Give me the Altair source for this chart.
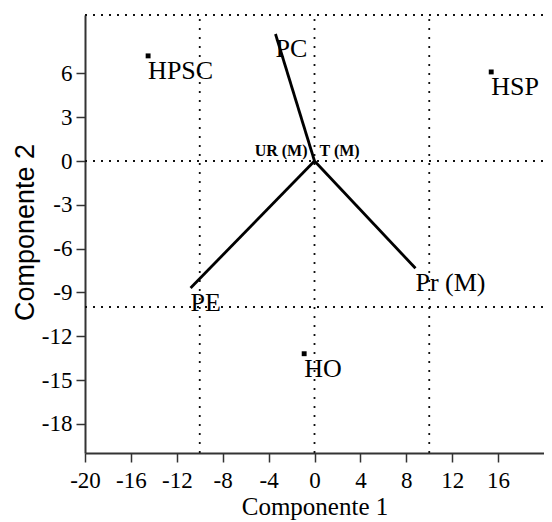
import altair as alt
import pandas as pd

# Objects (scores)
obj_names = ["HPSC", "HSP", "HO"]
obj_x = [-14.5, 15.4, -0.9]
obj_y = [7.2, 6.1, -13.2]

# Variables (loading vectors from origin)
var_names = ["PC", "PE", "Pr (M)"]
var_x = [-3.4, -10.8, 8.8]
var_y = [8.7, -8.7, -7.35]

# Variables with near-zero loadings (labels at origin)
small_left = ["UR (M)"]
small_right = ["T (M)"]

# Reference (dotted) lines
vlines = [-10, 0, 10]
hlines = [10, 0, -10]

x_ticks = [-20, -16, -12, -8, -4, 0, 4, 8, 12, 16]
y_ticks = [6, 3, 0, -3, -6, -9, -12, -15, -18]
x_dom = [-20, 20]
y_dom = [-20, 10]

objs = pd.DataFrame({"name": obj_names, "x": obj_x, "y": obj_y})
vars_df = pd.DataFrame({"name": var_names, "x0": [0] * 3, "y0": [0] * 3,
                        "x": var_x, "y": var_y})
vl_df = pd.DataFrame({"x": vlines, "y": [y_dom[0]] * 3, "y2": [y_dom[1]] * 3})
hl_df = pd.DataFrame({"y": hlines, "x": [x_dom[0]] * 3, "x2": [x_dom[1]] * 3})
sl_df = pd.DataFrame({"name": small_left, "x": [0], "y": [0]})
sr_df = pd.DataFrame({"name": small_right, "x": [0], "y": [0]})

W = 459
H = 438

xaxis = alt.Axis(
    values=x_ticks, labelExpr="'' + datum.value", grid=False,
    tickSize=9, tickWidth=1.5, tickColor="#333",
    domainColor="#333", domainWidth=2,
    labelFont="Liberation Serif", labelFontSize=23, labelColor="black",
    labelBaseline="alphabetic", labelPadding=25, labelFlush=False, labelOverlap=False,
    title="Componente 1", titleFont="Liberation Serif", titleFontSize=25,
    titleFontWeight="normal", titleColor="black", titleBaseline="alphabetic",
    titleY=61.5, titleX=W / 2, titleAlign="center",
)
yaxis = alt.Axis(
    values=y_ticks, labelExpr="'' + datum.value", grid=False,
    tickSize=9, tickWidth=1.5, tickColor="#333",
    domainColor="#333", domainWidth=2,
    labelFont="Liberation Serif", labelFontSize=23, labelColor="black",
    labelPadding=4, labelFlush=False, labelOverlap=False,
    title="Componente 2", titleFont="Liberation Sans", titleFontSize=27,
    titleFontWeight="normal", titleColor="black", titleBaseline="alphabetic",
    titleAngle=270, titleX=-52, titleY=217, titleAlign="center",
)

xs = alt.Scale(domain=x_dom, nice=False, zero=False)
ys = alt.Scale(domain=y_dom, nice=False, zero=False)

def X(f="x"):
    return alt.X(f"{f}:Q", scale=xs, axis=xaxis)

def Y(f="y"):
    return alt.Y(f"{f}:Q", scale=ys, axis=yaxis)

vdots = alt.Chart(vl_df).mark_rule(color="#111", strokeWidth=1.8, strokeDash=[2, 7]).encode(
    x=X(), y=Y(), y2="y2:Q")
hdots = alt.Chart(hl_df).mark_rule(color="#111", strokeWidth=1.8, strokeDash=[2, 6]).encode(
    y=Y(), x=X(), x2="x2:Q")

vec = alt.Chart(vars_df).mark_rule(color="black", strokeWidth=2.8).encode(
    x=X("x0"), y=Y("y0"), x2="x:Q", y2="y:Q")
vec_lab = alt.Chart(vars_df).mark_text(
    font="Liberation Serif", fontSize=26, color="black", align="left",
    baseline="alphabetic", dy=23).encode(x=X(), y=Y(), text="name:N")

pts = alt.Chart(objs).mark_square(color="black", size=24, opacity=1).encode(x=X(), y=Y())
pts_lab = alt.Chart(objs).mark_text(
    font="Liberation Serif", fontSize=26, color="black", align="left",
    baseline="alphabetic", dy=23).encode(x=X(), y=Y(), text="name:N")

sl = alt.Chart(sl_df).mark_text(
    font="Liberation Serif", fontSize=16, fontWeight="bold", color="black",
    align="right", baseline="alphabetic", dx=-7, dy=-5).encode(x=X(), y=Y(), text="name:N")
sr = alt.Chart(sr_df).mark_text(
    font="Liberation Serif", fontSize=16, fontWeight="bold", color="black",
    align="left", baseline="alphabetic", dx=5, dy=-5).encode(x=X(), y=Y(), text="name:N")

chart = alt.layer(vdots, hdots, vec, vec_lab, pts, pts_lab, sl, sr).properties(
    width=W, height=H,
    autosize=alt.AutoSizeParams(type="none"),
    padding={"left": 77, "top": 7, "right": 0, "bottom": 69},
    background="white",
).configure_view(stroke=None)

chart.save("out.html", embed_options={"renderer": "svg", "actions": False})
